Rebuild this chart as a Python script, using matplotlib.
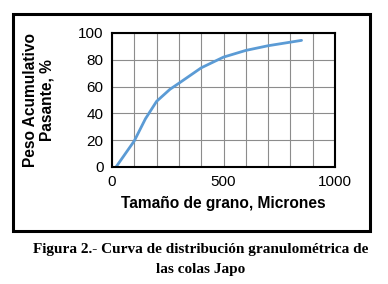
# Curva de distribucion granulometrica - colas Japo
import matplotlib.pyplot as plt
from matplotlib.patches import Rectangle

# Tamano de grano (micrones) y peso acumulado pasante (%)
tamano = [18, 100, 150, 200, 260, 300, 400, 500, 600, 700, 850]
pasante = [0, 19.5, 36, 49, 58, 62.5, 74, 82, 87, 90.5, 94.5]

x_ticks = [0, 500, 1000]
y_ticks = [0, 20, 40, 60, 80, 100]

W, H = 388, 284
fig = plt.figure(figsize=(W / 100, H / 100), dpi=100)
fig.patch.set_facecolor('white')

# plot area in pixels: left 112, right 335, top 33, bottom 167
ax = fig.add_axes([112 / W, 1 - 167 / H, (335 - 112) / W, (167 - 33) / H])
ax.plot(tamano, pasante, color='#5B9BD5', lw=2.0, solid_capstyle='round')

ax.set_xlim(0, 1000)
ax.set_ylim(0, 100)
ax.set_xticks(x_ticks)
ax.set_yticks(y_ticks)
ax.set_xticks(range(0, 1001, 100), minor=True)
ax.grid(True, which='both', axis='x', color='#8c8c8c', lw=0.8)
ax.grid(True, which='major', axis='y', color='#8c8c8c', lw=0.8)
ax.tick_params(which='both', length=0, labelsize=11, pad=6,
               labelfontfamily='Liberation Sans')
for s in ax.spines.values():
    s.set_linewidth(1.5)
    s.set_color('black')

ax.set_xlabel('Tamaño de grano, Micrones', fontsize=11.2, fontweight='bold',
              family='Liberation Sans', labelpad=5)
ax.set_ylabel('Peso Acumulativo\nPasante, %', fontsize=11.2, fontweight='bold',
              family='Liberation Sans', labelpad=17, linespacing=1.1)

# outer frame around the chart
fig.patches.append(Rectangle((13 / W, 1 - 231 / H), (370 - 13) / W, (231 - 14) / H,
                             transform=fig.transFigure, fill=False,
                             edgecolor='black', lw=2.2))

fig.text(201 / W, 1 - 249 / H, 'Figura 2.- Curva de distribución granulométrica de',
         ha='center', va='center', fontsize=11, fontweight='bold',
         family='Liberation Serif')
fig.text(201 / W, 1 - 269 / H, 'las colas Japo',
         ha='center', va='center', fontsize=11, fontweight='bold',
         family='Liberation Serif')

fig.savefig('out.png', dpi=100)
